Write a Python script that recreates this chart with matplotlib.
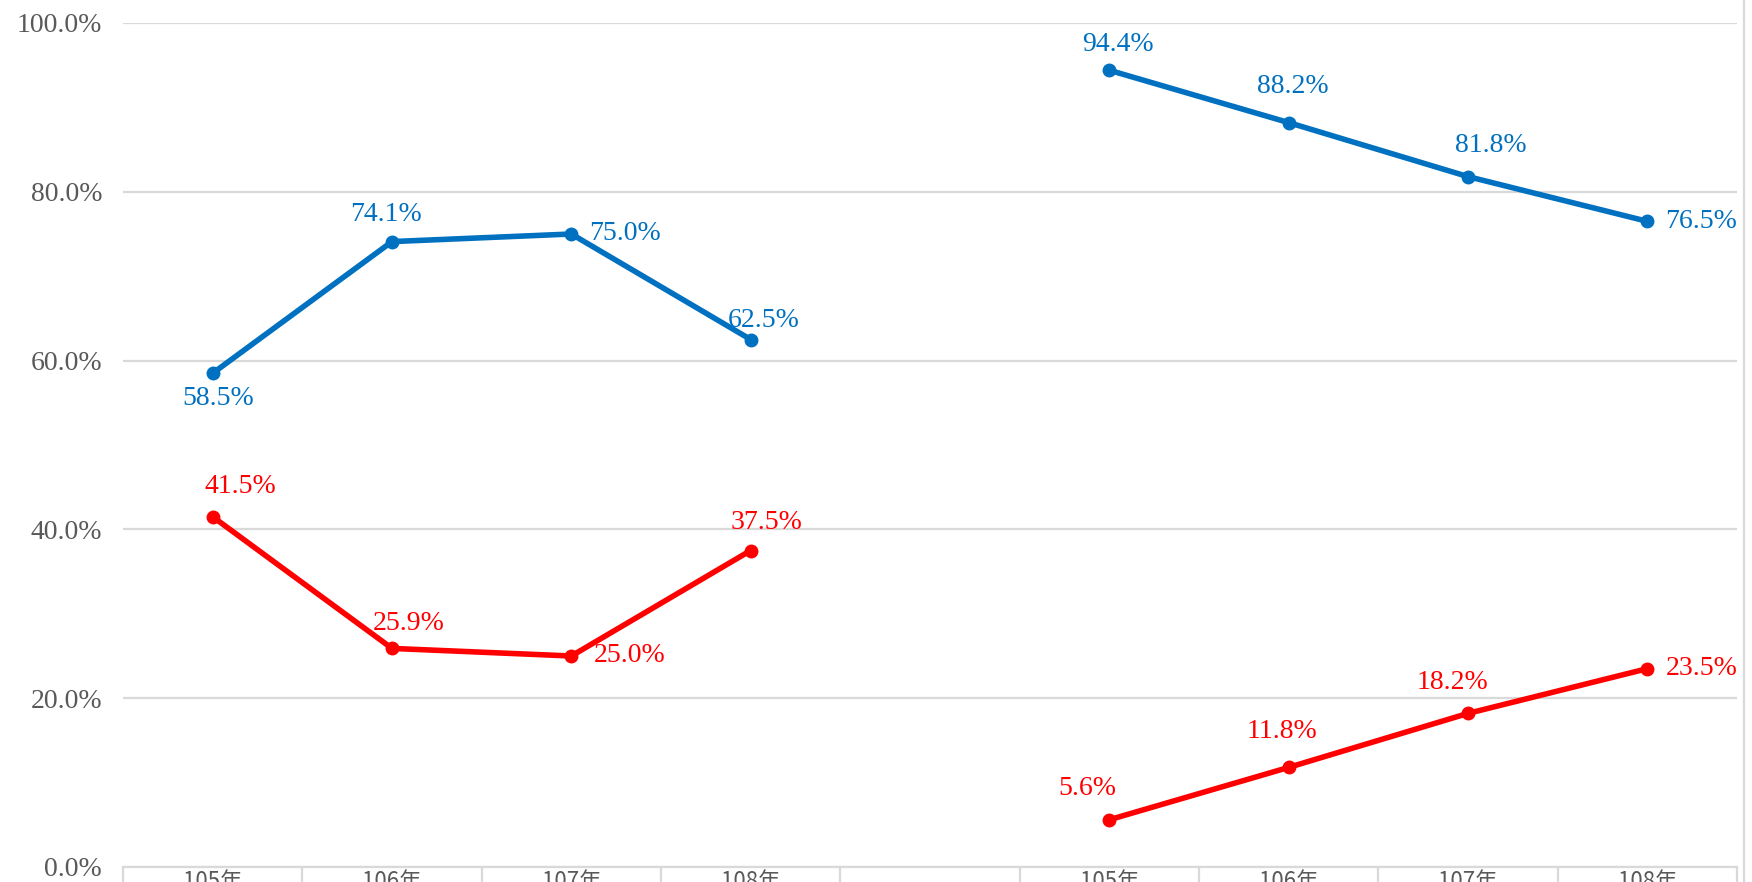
import numpy as np
import matplotlib
matplotlib.use("Agg")
import matplotlib.pyplot as plt
from matplotlib.lines import Line2D

# ---- data ----
categories = ["105年", "106年", "107年", "108年", "", "105年", "106年", "107年", "108年"]
blue_values = [58.5, 74.1, 75.0, 62.5, np.nan, 94.4, 88.2, 81.8, 76.5]
red_values = [41.5, 25.9, 25.0, 37.5, np.nan, 5.6, 11.8, 18.2, 23.5]
y_ticks = [0, 20, 40, 60, 80, 100]

BLUE = "#0070C0"
RED = "#FF0000"
GRID = "#D9D9D9"
TXT = "#595959"
NUMFONT = ["Liberation Serif", "DejaVu Serif"]

W, H = 1752, 882
fig = plt.figure(figsize=(W / 100, H / 100), dpi=100)
ax = fig.add_axes([123 / W, 1 - 867 / H, (1737 - 123) / W, (867 - 23) / H])

x = np.arange(len(categories))


def draw(vals, color):
    vals = np.array(vals, dtype=float)
    # draw the two groups separately (gap at blank category)
    for seg in (slice(0, 4), slice(5, 9)):
        ax.plot(x[seg], vals[seg], color=color, lw=4.0, marker="o", ms=9,
                solid_capstyle="round", zorder=3)


draw(blue_values, BLUE)
draw(red_values, RED)

# label offsets in pixels (dx, dy up positive, ha)
blue_off = [(6, -25, "center"), (-6, 27, "center"), (18, 0, "left"), (13, 19, "center"), None,
            (9, 26, "center"), (4, 36, "center"), (23, 31, "center"), (18, 0, "left")]
red_off = [(28, 30, "center"), (17, 25, "center"), (22, 0, "left"), (16, 28, "center"), None,
           (-22, 31, "center"), (-7, 36, "center"), (-16, 31, "center"), (18, 0, "left")]


def labels(vals, offs, color):
    for xi, v, o in zip(x, vals, offs):
        if o is None or np.isnan(v):
            continue
        dx, dy, ha = o
        ax.annotate(f"{v:.1f}%", (xi, v), xytext=(dx * 0.72, dy * 0.72),
                    textcoords="offset points", ha=ha, va="center",
                    color=color, fontsize=20, family=NUMFONT, zorder=4)


labels(blue_values, blue_off, BLUE)
labels(red_values, red_off, RED)

ax.set_xlim(-0.5, len(categories) - 0.5)
ax.set_ylim(0, 100)
ax.set_yticks(y_ticks)
ax.set_yticklabels([f"{t:.1f}%" for t in y_ticks], family=NUMFONT, fontsize=20, color=TXT)
ax.yaxis.grid(True, color=GRID, lw=1.6)
ax.set_axisbelow(True)
ax.tick_params(axis="y", length=0, pad=15)

ax.set_xticks(x)
ax.set_xticklabels(categories, family=["Noto Sans CJK TC", "DejaVu Sans"], fontsize=16, color=TXT)
ax.set_xticks(np.arange(-0.5, len(categories)), minor=True)
ax.tick_params(axis="x", which="major", length=0, pad=2)
ax.tick_params(axis="x", which="minor", length=20, width=1.6, color=GRID, direction="out")

for s in ["left", "right", "top"]:
    ax.spines[s].set_visible(False)
ax.spines["bottom"].set_color(GRID)
ax.spines["bottom"].set_linewidth(1.6)

fig.add_artist(Line2D([1744 / W, 1744 / W], [0, 1], color=GRID, lw=1.6))

fig.savefig("out.png", dpi=100)
